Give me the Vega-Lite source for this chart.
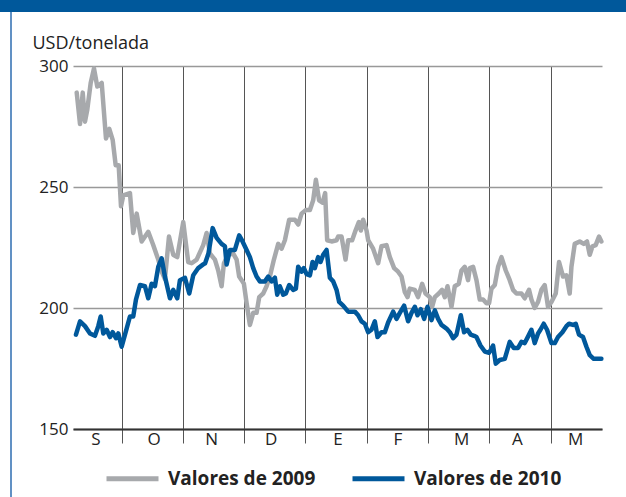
{
  "$schema": "https://vega.github.io/schema/vega-lite/v6.json",
  "width": 529,
  "height": 363,
  "autosize": {"type": "none"},
  "padding": {"left": 73, "top": 66, "right": 24, "bottom": 68},
  "background": "white",
  "config": {"font": "Open Sans", "view": {"stroke": null}},
  "datasets": {
    "precos": [
      {"m":0.266,"v":289,"s":"Valores de 2009"},{"m":0.320,"v":276,"s":"Valores de 2009"},{"m":0.364,"v":289,"s":"Valores de 2009"},{"m":0.401,"v":277,"s":"Valores de 2009"},{"m":0.439,"v":282,"s":"Valores de 2009"},{"m":0.494,"v":293,"s":"Valores de 2009"},{"m":0.548,"v":299,"s":"Valores de 2009"},{"m":0.602,"v":291.5,"s":"Valores de 2009"},{"m":0.674,"v":293,"s":"Valores de 2009"},{"m":0.744,"v":270,"s":"Valores de 2009"},{"m":0.798,"v":274,"s":"Valores de 2009"},{"m":0.853,"v":269.5,"s":"Valores de 2009"},{"m":0.902,"v":259,"s":"Valores de 2009"},{"m":0.951,"v":259,"s":"Valores de 2009"},{"m":0.989,"v":242,"s":"Valores de 2009"},{"m":1.026,"v":246.5,"s":"Valores de 2009"},{"m":1.135,"v":247.5,"s":"Valores de 2009"},{"m":1.189,"v":231,"s":"Valores de 2009"},{"m":1.245,"v":239,"s":"Valores de 2009"},{"m":1.326,"v":227.5,"s":"Valores de 2009"},{"m":1.434,"v":231.5,"s":"Valores de 2009"},{"m":1.515,"v":226,"s":"Valores de 2009"},{"m":1.597,"v":220,"s":"Valores de 2009"},{"m":1.653,"v":215,"s":"Valores de 2009"},{"m":1.706,"v":212,"s":"Valores de 2009"},{"m":1.772,"v":229.5,"s":"Valores de 2009"},{"m":1.842,"v":222,"s":"Valores de 2009"},{"m":1.907,"v":221,"s":"Valores de 2009"},{"m":2.005,"v":235.5,"s":"Valores de 2009"},{"m":2.086,"v":219,"s":"Valores de 2009"},{"m":2.142,"v":218.5,"s":"Valores de 2009"},{"m":2.224,"v":220,"s":"Valores de 2009"},{"m":2.331,"v":226,"s":"Valores de 2009"},{"m":2.387,"v":231,"s":"Valores de 2009"},{"m":2.440,"v":222.5,"s":"Valores de 2009"},{"m":2.522,"v":220,"s":"Valores de 2009"},{"m":2.576,"v":215.5,"s":"Valores de 2009"},{"m":2.631,"v":209,"s":"Valores de 2009"},{"m":2.669,"v":218.5,"s":"Valores de 2009"},{"m":2.739,"v":222,"s":"Valores de 2009"},{"m":2.821,"v":222.5,"s":"Valores de 2009"},{"m":2.876,"v":220,"s":"Valores de 2009"},{"m":2.918,"v":213,"s":"Valores de 2009"},{"m":2.958,"v":211.5,"s":"Valores de 2009"},{"m":2.995,"v":210,"s":"Valores de 2009"},{"m":3.039,"v":202,"s":"Valores de 2009"},{"m":3.093,"v":193,"s":"Valores de 2009"},{"m":3.147,"v":198,"s":"Valores de 2009"},{"m":3.202,"v":198,"s":"Valores de 2009"},{"m":3.245,"v":204.5,"s":"Valores de 2009"},{"m":3.310,"v":206,"s":"Valores de 2009"},{"m":3.365,"v":209,"s":"Valores de 2009"},{"m":3.419,"v":213,"s":"Valores de 2009"},{"m":3.485,"v":220,"s":"Valores de 2009"},{"m":3.555,"v":226.5,"s":"Valores de 2009"},{"m":3.610,"v":224.5,"s":"Valores de 2009"},{"m":3.664,"v":228,"s":"Valores de 2009"},{"m":3.734,"v":236.5,"s":"Valores de 2009"},{"m":3.827,"v":236.5,"s":"Valores de 2009"},{"m":3.881,"v":234.5,"s":"Valores de 2009"},{"m":3.936,"v":239,"s":"Valores de 2009"},{"m":4.007,"v":240.5,"s":"Valores de 2009"},{"m":4.072,"v":240.5,"s":"Valores de 2009"},{"m":4.126,"v":244.5,"s":"Valores de 2009"},{"m":4.170,"v":253,"s":"Valores de 2009"},{"m":4.223,"v":244.5,"s":"Valores de 2009"},{"m":4.279,"v":243.5,"s":"Valores de 2009"},{"m":4.321,"v":247.5,"s":"Valores de 2009"},{"m":4.354,"v":228,"s":"Valores de 2009"},{"m":4.426,"v":227.5,"s":"Valores de 2009"},{"m":4.507,"v":228,"s":"Valores de 2009"},{"m":4.533,"v":229.5,"s":"Valores de 2009"},{"m":4.589,"v":229.5,"s":"Valores de 2009"},{"m":4.654,"v":220,"s":"Valores de 2009"},{"m":4.697,"v":228,"s":"Valores de 2009"},{"m":4.762,"v":228,"s":"Valores de 2009"},{"m":4.817,"v":232,"s":"Valores de 2009"},{"m":4.871,"v":235.5,"s":"Valores de 2009"},{"m":4.904,"v":232,"s":"Valores de 2009"},{"m":4.941,"v":236.5,"s":"Valores de 2009"},{"m":4.997,"v":232,"s":"Valores de 2009"},{"m":5.023,"v":228,"s":"Valores de 2009"},{"m":5.104,"v":224.5,"s":"Valores de 2009"},{"m":5.186,"v":218.5,"s":"Valores de 2009"},{"m":5.241,"v":225.5,"s":"Valores de 2009"},{"m":5.323,"v":226,"s":"Valores de 2009"},{"m":5.377,"v":221,"s":"Valores de 2009"},{"m":5.447,"v":216.5,"s":"Valores de 2009"},{"m":5.512,"v":215,"s":"Valores de 2009"},{"m":5.568,"v":213,"s":"Valores de 2009"},{"m":5.622,"v":206.5,"s":"Valores de 2009"},{"m":5.666,"v":204.5,"s":"Valores de 2009"},{"m":5.703,"v":208,"s":"Valores de 2009"},{"m":5.785,"v":207.5,"s":"Valores de 2009"},{"m":5.838,"v":204.5,"s":"Valores de 2009"},{"m":5.904,"v":210,"s":"Valores de 2009"},{"m":5.959,"v":206,"s":"Valores de 2009"},{"m":6.029,"v":204.5,"s":"Valores de 2009"},{"m":6.067,"v":200.5,"s":"Valores de 2009"},{"m":6.111,"v":204.5,"s":"Valores de 2009"},{"m":6.176,"v":206,"s":"Valores de 2009"},{"m":6.230,"v":207.5,"s":"Valores de 2009"},{"m":6.274,"v":204.5,"s":"Valores de 2009"},{"m":6.318,"v":209,"s":"Valores de 2009"},{"m":6.383,"v":200.5,"s":"Valores de 2009"},{"m":6.437,"v":209,"s":"Valores de 2009"},{"m":6.502,"v":210,"s":"Valores de 2009"},{"m":6.546,"v":215.5,"s":"Valores de 2009"},{"m":6.600,"v":217,"s":"Valores de 2009"},{"m":6.654,"v":211.5,"s":"Valores de 2009"},{"m":6.682,"v":216.5,"s":"Valores de 2009"},{"m":6.736,"v":217,"s":"Valores de 2009"},{"m":6.791,"v":211.5,"s":"Valores de 2009"},{"m":6.845,"v":203.5,"s":"Valores de 2009"},{"m":6.899,"v":203.5,"s":"Valores de 2009"},{"m":6.954,"v":202,"s":"Valores de 2009"},{"m":6.997,"v":202,"s":"Valores de 2009"},{"m":7.036,"v":208,"s":"Valores de 2009"},{"m":7.090,"v":209.5,"s":"Valores de 2009"},{"m":7.144,"v":217,"s":"Valores de 2009"},{"m":7.199,"v":221,"s":"Valores de 2009"},{"m":7.269,"v":215.5,"s":"Valores de 2009"},{"m":7.334,"v":211.5,"s":"Valores de 2009"},{"m":7.388,"v":207.5,"s":"Valores de 2009"},{"m":7.444,"v":206,"s":"Valores de 2009"},{"m":7.525,"v":206,"s":"Valores de 2009"},{"m":7.579,"v":204,"s":"Valores de 2009"},{"m":7.649,"v":207.5,"s":"Valores de 2009"},{"m":7.688,"v":203.5,"s":"Valores de 2009"},{"m":7.742,"v":200,"s":"Valores de 2009"},{"m":7.796,"v":202.5,"s":"Valores de 2009"},{"m":7.851,"v":207.5,"s":"Valores de 2009"},{"m":7.905,"v":209.5,"s":"Valores de 2009"},{"m":7.959,"v":200.5,"s":"Valores de 2009"},{"m":8.015,"v":202.5,"s":"Valores de 2009"},{"m":8.085,"v":206,"s":"Valores de 2009"},{"m":8.139,"v":219,"s":"Valores de 2009"},{"m":8.204,"v":213,"s":"Valores de 2009"},{"m":8.259,"v":213.5,"s":"Valores de 2009"},{"m":8.313,"v":206,"s":"Valores de 2009"},{"m":8.341,"v":217,"s":"Valores de 2009"},{"m":8.395,"v":226.5,"s":"Valores de 2009"},{"m":8.476,"v":227.5,"s":"Valores de 2009"},{"m":8.542,"v":226.5,"s":"Valores de 2009"},{"m":8.595,"v":227.5,"s":"Valores de 2009"},{"m":8.640,"v":222,"s":"Valores de 2009"},{"m":8.684,"v":225.5,"s":"Valores de 2009"},{"m":8.737,"v":226,"s":"Valores de 2009"},{"m":8.791,"v":229.5,"s":"Valores de 2009"},{"m":8.830,"v":227.5,"s":"Valores de 2009"},
      {"m":0.254,"v":189,"s":"Valores de 2010"},{"m":0.320,"v":194.5,"s":"Valores de 2010"},{"m":0.401,"v":192.5,"s":"Valores de 2010"},{"m":0.483,"v":189.5,"s":"Valores de 2010"},{"m":0.564,"v":188.5,"s":"Valores de 2010"},{"m":0.618,"v":192.5,"s":"Valores de 2010"},{"m":0.657,"v":196.5,"s":"Valores de 2010"},{"m":0.700,"v":189.5,"s":"Valores de 2010"},{"m":0.755,"v":191,"s":"Valores de 2010"},{"m":0.809,"v":188,"s":"Valores de 2010"},{"m":0.853,"v":190,"s":"Valores de 2010"},{"m":0.907,"v":187.5,"s":"Valores de 2010"},{"m":0.945,"v":189.5,"s":"Valores de 2010"},{"m":1.000,"v":184,"s":"Valores de 2010"},{"m":1.054,"v":189,"s":"Valores de 2010"},{"m":1.135,"v":196.5,"s":"Valores de 2010"},{"m":1.189,"v":196.5,"s":"Valores de 2010"},{"m":1.233,"v":203.5,"s":"Valores de 2010"},{"m":1.299,"v":209.5,"s":"Valores de 2010"},{"m":1.380,"v":209,"s":"Valores de 2010"},{"m":1.434,"v":204,"s":"Valores de 2010"},{"m":1.489,"v":210,"s":"Valores de 2010"},{"m":1.543,"v":209,"s":"Valores de 2010"},{"m":1.597,"v":217,"s":"Valores de 2010"},{"m":1.653,"v":220.5,"s":"Valores de 2010"},{"m":1.706,"v":213,"s":"Valores de 2010"},{"m":1.788,"v":204,"s":"Valores de 2010"},{"m":1.842,"v":207.5,"s":"Valores de 2010"},{"m":1.907,"v":204,"s":"Valores de 2010"},{"m":1.951,"v":211.5,"s":"Valores de 2010"},{"m":2.033,"v":212.5,"s":"Valores de 2010"},{"m":2.103,"v":206,"s":"Valores de 2010"},{"m":2.168,"v":213.5,"s":"Valores de 2010"},{"m":2.250,"v":216.5,"s":"Valores de 2010"},{"m":2.331,"v":218,"s":"Valores de 2010"},{"m":2.362,"v":218.5,"s":"Valores de 2010"},{"m":2.416,"v":222.5,"s":"Valores de 2010"},{"m":2.485,"v":233,"s":"Valores de 2010"},{"m":2.550,"v":229,"s":"Valores de 2010"},{"m":2.631,"v":226.5,"s":"Valores de 2010"},{"m":2.685,"v":225.5,"s":"Valores de 2010"},{"m":2.713,"v":218,"s":"Valores de 2010"},{"m":2.767,"v":224,"s":"Valores de 2010"},{"m":2.848,"v":224,"s":"Valores de 2010"},{"m":2.918,"v":230,"s":"Valores de 2010"},{"m":2.973,"v":227.5,"s":"Valores de 2010"},{"m":3.039,"v":224,"s":"Valores de 2010"},{"m":3.093,"v":221,"s":"Valores de 2010"},{"m":3.147,"v":216.5,"s":"Valores de 2010"},{"m":3.202,"v":213,"s":"Valores de 2010"},{"m":3.256,"v":211,"s":"Valores de 2010"},{"m":3.338,"v":211,"s":"Valores de 2010"},{"m":3.392,"v":213,"s":"Valores de 2010"},{"m":3.447,"v":211,"s":"Valores de 2010"},{"m":3.501,"v":212.5,"s":"Valores de 2010"},{"m":3.539,"v":205.5,"s":"Valores de 2010"},{"m":3.582,"v":209,"s":"Valores de 2010"},{"m":3.636,"v":205.5,"s":"Valores de 2010"},{"m":3.680,"v":206,"s":"Valores de 2010"},{"m":3.734,"v":209.5,"s":"Valores de 2010"},{"m":3.799,"v":207.5,"s":"Valores de 2010"},{"m":3.843,"v":208,"s":"Valores de 2010"},{"m":3.881,"v":217,"s":"Valores de 2010"},{"m":3.936,"v":215,"s":"Valores de 2010"},{"m":3.974,"v":216.5,"s":"Valores de 2010"},{"m":4.018,"v":214,"s":"Valores de 2010"},{"m":4.072,"v":213.5,"s":"Valores de 2010"},{"m":4.116,"v":219,"s":"Valores de 2010"},{"m":4.153,"v":216.5,"s":"Valores de 2010"},{"m":4.207,"v":221,"s":"Valores de 2010"},{"m":4.246,"v":219,"s":"Valores de 2010"},{"m":4.289,"v":222,"s":"Valores de 2010"},{"m":4.344,"v":224,"s":"Valores de 2010"},{"m":4.398,"v":212.5,"s":"Valores de 2010"},{"m":4.452,"v":211,"s":"Valores de 2010"},{"m":4.507,"v":207.5,"s":"Valores de 2010"},{"m":4.550,"v":202.5,"s":"Valores de 2010"},{"m":4.615,"v":201,"s":"Valores de 2010"},{"m":4.697,"v":198.5,"s":"Valores de 2010"},{"m":4.806,"v":198.5,"s":"Valores de 2010"},{"m":4.860,"v":197,"s":"Valores de 2010"},{"m":4.915,"v":194.5,"s":"Valores de 2010"},{"m":4.969,"v":193.5,"s":"Valores de 2010"},{"m":5.023,"v":190,"s":"Valores de 2010"},{"m":5.078,"v":191,"s":"Valores de 2010"},{"m":5.132,"v":194.5,"s":"Valores de 2010"},{"m":5.176,"v":188,"s":"Valores de 2010"},{"m":5.241,"v":190,"s":"Valores de 2010"},{"m":5.295,"v":190,"s":"Valores de 2010"},{"m":5.349,"v":194,"s":"Valores de 2010"},{"m":5.431,"v":198.5,"s":"Valores de 2010"},{"m":5.486,"v":195.5,"s":"Valores de 2010"},{"m":5.540,"v":198,"s":"Valores de 2010"},{"m":5.610,"v":201,"s":"Valores de 2010"},{"m":5.675,"v":194.5,"s":"Valores de 2010"},{"m":5.731,"v":198,"s":"Valores de 2010"},{"m":5.785,"v":200.5,"s":"Valores de 2010"},{"m":5.829,"v":197,"s":"Valores de 2010"},{"m":5.883,"v":199.5,"s":"Valores de 2010"},{"m":5.937,"v":195.5,"s":"Valores de 2010"},{"m":5.992,"v":200.5,"s":"Valores de 2010"},{"m":6.057,"v":195,"s":"Valores de 2010"},{"m":6.111,"v":199,"s":"Valores de 2010"},{"m":6.165,"v":195.5,"s":"Valores de 2010"},{"m":6.220,"v":193,"s":"Valores de 2010"},{"m":6.302,"v":191.5,"s":"Valores de 2010"},{"m":6.356,"v":190,"s":"Valores de 2010"},{"m":6.410,"v":187.5,"s":"Valores de 2010"},{"m":6.465,"v":189,"s":"Valores de 2010"},{"m":6.535,"v":197,"s":"Valores de 2010"},{"m":6.589,"v":190,"s":"Valores de 2010"},{"m":6.644,"v":191,"s":"Valores de 2010"},{"m":6.698,"v":189,"s":"Valores de 2010"},{"m":6.752,"v":188.5,"s":"Valores de 2010"},{"m":6.791,"v":188,"s":"Valores de 2010"},{"m":6.856,"v":184.5,"s":"Valores de 2010"},{"m":6.927,"v":182,"s":"Valores de 2010"},{"m":6.997,"v":181.5,"s":"Valores de 2010"},{"m":7.062,"v":184.5,"s":"Valores de 2010"},{"m":7.106,"v":177,"s":"Valores de 2010"},{"m":7.171,"v":178.5,"s":"Valores de 2010"},{"m":7.253,"v":179,"s":"Valores de 2010"},{"m":7.334,"v":186,"s":"Valores de 2010"},{"m":7.400,"v":183.5,"s":"Valores de 2010"},{"m":7.470,"v":183.5,"s":"Valores de 2010"},{"m":7.525,"v":186,"s":"Valores de 2010"},{"m":7.579,"v":185.5,"s":"Valores de 2010"},{"m":7.649,"v":189,"s":"Valores de 2010"},{"m":7.688,"v":191,"s":"Valores de 2010"},{"m":7.742,"v":185.5,"s":"Valores de 2010"},{"m":7.796,"v":189.5,"s":"Valores de 2010"},{"m":7.835,"v":191,"s":"Valores de 2010"},{"m":7.889,"v":193.5,"s":"Valores de 2010"},{"m":7.943,"v":191,"s":"Valores de 2010"},{"m":8.015,"v":185.5,"s":"Valores de 2010"},{"m":8.069,"v":185.5,"s":"Valores de 2010"},{"m":8.122,"v":188,"s":"Valores de 2010"},{"m":8.194,"v":190,"s":"Valores de 2010"},{"m":8.259,"v":192.5,"s":"Valores de 2010"},{"m":8.302,"v":193.5,"s":"Valores de 2010"},{"m":8.367,"v":193,"s":"Valores de 2010"},{"m":8.411,"v":193.5,"s":"Valores de 2010"},{"m":8.465,"v":189,"s":"Valores de 2010"},{"m":8.530,"v":188,"s":"Valores de 2010"},{"m":8.586,"v":184,"s":"Valores de 2010"},{"m":8.640,"v":180.5,"s":"Valores de 2010"},{"m":8.705,"v":179,"s":"Valores de 2010"},{"m":8.775,"v":179,"s":"Valores de 2010"},{"m":8.830,"v":179,"s":"Valores de 2010"}
    ],
    "meses": [
      {"m":0.58,"t":"S"},{"m":1.53,"t":"O"},{"m":2.47,"t":"N"},{"m":3.44,"t":"D"},{"m":4.53,"t":"E"},{"m":5.51,"t":"F"},{"m":6.55,"t":"M"},{"m":7.46,"t":"A"},{"m":8.41,"t":"M"}
    ]
  },
  "layer": [
    {
      "data": {"values": [{}]},
      "mark": {"type": "rect", "color": "#00589b"},
      "encoding": {
        "x": {"value": -73},
        "x2": {"value": 553},
        "y": {"value": -66},
        "y2": {"value": -54}
      }
    },
    {
      "data": {"values": [{}]},
      "mark": {"type": "rule", "color": "#2d6db0", "strokeWidth": 1.5},
      "encoding": {
        "x": {"value": -62},
        "y": {"value": -54},
        "y2": {"value": 431}
      }
    },
    {
      "data": {"name": "precos"},
      "mark": {"type": "line", "strokeWidth": 4.5, "strokeJoin": "round", "strokeCap": "round"},
      "encoding": {
        "x": {
          "field": "m",
          "type": "quantitative",
          "scale": {"domain": [0.2055, 8.84], "nice": false, "zero": false},
          "axis": {
            "values": [1, 2, 3, 4, 5, 6, 7, 8],
            "grid": true,
            "gridColor": "#555555",
            "gridWidth": 1,
            "ticks": true,
            "tickSize": 14,
            "tickColor": "#555555",
            "tickWidth": 1,
            "labels": false,
            "domainColor": "#333333",
            "domainWidth": 2,
            "title": null
          }
        },
        "y": {
          "field": "v",
          "type": "quantitative",
          "scale": {"domain": [150, 300], "nice": false, "zero": false},
          "axis": {
            "values": [150, 200, 250, 300],
            "grid": true,
            "gridColor": "#999999",
            "gridWidth": 1.5,
            "ticks": false,
            "domain": false,
            "labelPadding": 5,
            "labelFontSize": 17,
            "labelColor": "#222222",
            "title": "USD/tonelada",
            "titleAngle": 0,
            "titleX": -41,
            "titleY": -18,
            "titleAlign": "left",
            "titleBaseline": "alphabetic",
            "titleFontSize": 18,
            "titleFontWeight": "normal",
            "titleColor": "#222222"
          }
        },
        "color": {
          "field": "s",
          "type": "nominal",
          "scale": {"domain": ["Valores de 2009", "Valores de 2010"], "range": ["#a7a9ac", "#00589b"]},
          "legend": {
            "title": null,
            "orient": "none",
            "legendX": 31,
            "legendY": 384,
            "direction": "horizontal",
            "symbolType": "stroke",
            "symbolSize": 2704,
            "symbolStrokeWidth": 5,
            "labelFontSize": 19,
            "labelFontWeight": "bold",
            "labelColor": "#222222",
            "labelOffset": 7,
            "columnPadding": 26
          }
        }
      }
    },
    {
      "data": {"name": "meses"},
      "mark": {"type": "text", "baseline": "top", "dy": 3, "fontSize": 17, "color": "#222222", "align": "center"},
      "encoding": {
        "x": {"field": "m", "type": "quantitative"},
        "y": {"datum": 150},
        "text": {"field": "t"}
      }
    }
  ]
}
